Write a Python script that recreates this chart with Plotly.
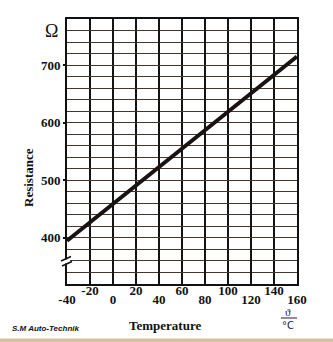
import plotly.graph_objects as go

# Temperature (°C) and resistance (Ω) of the sensor characteristic
temperature_c = [-40, 0, 40, 80, 120, 160]
resistance_ohm = [395, 459, 523, 587, 651, 715]

# Staggered tick labels along the temperature axis
ticks_low = [-40, 0, 40, 80, 120, 160]
ticks_high = [-20, 20, 60, 100, 140]
ticks_resistance = [400, 500, 600, 700]

W, H = 333, 342
ML, MR, MT, MB = 67, 36, 19, 58
PW, PH = W - ML - MR, H - MT - MB


def px_x(px):
    return (px - ML) / PW


def px_y(py):
    return (H - MB - py) / PH


SERIF = "Liberation Serif"
GRID_H = "#45362c"
GRID_V = "#141414"

fig = go.Figure()
fig.add_trace(go.Scatter(
    x=temperature_c, y=resistance_ohm, mode="lines",
    line=dict(color="#1a1212", width=4), hoverinfo="skip", showlegend=False,
))
# carrier trace so the upper label row is drawn
fig.add_trace(go.Scatter(
    x=temperature_c, y=resistance_ohm, mode="lines", xaxis="x2",
    line=dict(color="rgba(0,0,0,0)", width=0), hoverinfo="skip", showlegend=False,
))

tick_font = dict(family=SERIF, size=13, color="#111111", weight="bold")

fig.update_layout(
    width=W, height=H,
    margin=dict(l=ML, r=MR, t=MT, b=MB),
    paper_bgcolor="white", plot_bgcolor="white",
    xaxis=dict(
        range=[-40, 160], tickvals=ticks_low, ticktext=[str(v) for v in ticks_low],
        showgrid=True, gridcolor=GRID_V, gridwidth=1.5,
        minor=dict(dtick=20, tick0=-40, showgrid=True, gridcolor=GRID_V, gridwidth=1.5, ticks=""),
        showline=True, linecolor="#111111", linewidth=2, mirror=True,
        ticks="", ticklabelstandoff=2, tickfont=tick_font, zeroline=False,
    ),
    xaxis2=dict(
        range=[-40, 160], overlaying="x", side="bottom", anchor="free",
        position=px_y(281), tickvals=ticks_high, ticktext=[str(v) for v in ticks_high],
        showgrid=False, showline=False, ticks="", ticklabelstandoff=0,
        tickfont=tick_font, zeroline=False,
    ),
    yaxis=dict(
        range=[320, 780], tickvals=ticks_resistance,
        ticktext=[str(v) for v in ticks_resistance],
        showgrid=True, gridcolor=GRID_H, gridwidth=1.2,
        minor=dict(dtick=20, tick0=320, showgrid=True, gridcolor=GRID_H, gridwidth=1.2, ticks=""),
        showline=True, linecolor="#111111", linewidth=2, mirror=True,
        ticks="outside", ticklen=2, tickwidth=1.5, tickcolor="#111111",
        ticklabelstandoff=0, tickfont=tick_font, zeroline=False,
    ),
)

annotations = [
    dict(text="Ω", x=px_x(51.5), y=px_y(31), font=dict(family=SERIF, size=18, color="#111111")),
    dict(text="Resistance", x=px_x(28), y=px_y(178), textangle=-90,
         font=dict(family=SERIF, size=13, color="#111111", weight="bold")),
    dict(text="Temperature", x=px_x(165), y=px_y(325),
         font=dict(family=SERIF, size=13, color="#111111", weight="bold")),
    dict(text="ϑ", x=px_x(288), y=px_y(312),
         font=dict(family=SERIF, size=11, color="#1a1a3a")),
    dict(text="°C", x=px_x(287.5), y=px_y(325),
         font=dict(family="DejaVu Sans", size=10, color="#1a1a3a")),
    dict(text="S.M Auto-Technik", x=px_x(46), y=px_y(328),
         font=dict(family="Liberation Sans", size=8,
                   color="#111111", weight="bold", style="italic")),
]
for a in annotations:
    fig.add_annotation(xref="paper", yref="paper", showarrow=False,
                       xanchor="center", yanchor="middle", **a)

shapes = [
    # fraction bar of the unit label
    dict(type="line", x0=px_x(281), x1=px_x(297), y0=px_y(318), y1=px_y(318),
         line=dict(color="#1a1a3a", width=1)),
    # gap in the resistance axis for the break symbol
    dict(type="rect", x0=px_x(64), x1=px_x(70), y0=px_y(259.5), y1=px_y(263.5),
         line=dict(width=0), fillcolor="white"),
    dict(type="line", x0=px_x(61), x1=px_x(71), y0=px_y(261), y1=px_y(256.5),
         line=dict(color="#111111", width=1.5)),
    dict(type="line", x0=px_x(62), x1=px_x(72), y0=px_y(266), y1=px_y(261.5),
         line=dict(color="#111111", width=1.5)),
    # tan strip along the lower edge
    dict(type="rect", x0=px_x(0), x1=px_x(W), y0=px_y(338.5), y1=px_y(H),
         line=dict(width=0), fillcolor="#d8c29e", layer="above"),
]
for s in shapes:
    fig.add_shape(xref="paper", yref="paper", **s)

fig.write_html("out.html")
